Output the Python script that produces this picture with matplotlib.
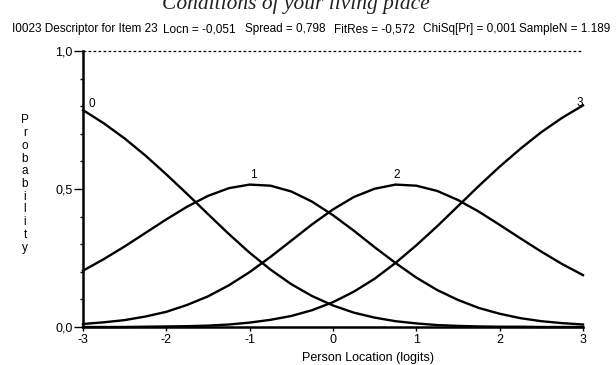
import matplotlib
matplotlib.use("Agg")
import matplotlib.pyplot as plt
from matplotlib.ticker import MultipleLocator

# Person location (logits)
locations = [-3.0, -2.75, -2.5, -2.25, -2.0, -1.75, -1.5, -1.25, -1.0, -0.75, -0.5, -0.25,
             0.0, 0.25, 0.5, 0.75, 1.0, 1.25, 1.5, 1.75, 2.0, 2.25, 2.5, 2.75, 3.0]

# Category probability curves
cat0 = [.786, .738, .683, .621, .553, .482, .409, .337, .269, .208, .155, .112,
        .078, .052, .034, .021, .013, .007, .004, .002, .001, .001, .000, .000, .000]
cat1 = [.204, .246, .292, .341, .390, .436, .475, .503, .516, .512, .491, .454,
        .405, .349, .289, .232, .179, .134, .098, .069, .048, .032, .021, .014, .009]
cat2 = [.011, .017, .025, .038, .055, .080, .111, .151, .199, .254, .313, .372,
        .426, .471, .501, .516, .512, .493, .460, .418, .370, .321, .273, .228, .188]
cat3 = [.000, .000, .000, .001, .002, .003, .005, .009, .016, .026, .040, .061,
        .090, .128, .175, .232, .296, .365, .438, .511, .581, .646, .706, .758, .803]

xtick_vals = [-3, -2, -1, 0, 1, 2, 3]
ytick_vals = [0.0, 0.5, 1.0]
ytick_labels = ["0,0", "0,5", "1,0"]

# header fields and their left edges (px)
header_parts = ["I0023 Descriptor for Item 23", "Locn = -0,051", "Spread = 0,798",
                "FitRes = -0,572", "ChiSq[Pr] = 0,001", "SampleN = 1.189"]
header_x = [12, 163, 245, 334, 423, 519]

sans = "Liberation Sans"

fig = plt.figure(figsize=(6.16, 3.65), dpi=100)
W, H = 616, 365
ax = fig.add_axes([83 / W, (H - 327) / H, 500 / W, 276 / H])

for ys in (cat0, cat1, cat2, cat3):
    ax.plot(locations, ys, color="black", linewidth=1.7, clip_on=False,
            solid_joinstyle="round")

# category labels
ax.text(-2.9, 0.808, "0", fontsize=8.5, family=sans, ha="center", va="center")
ax.text(-0.95, 0.528, "1", fontsize=8.5, family=sans, ha="center", va="bottom")
ax.text(0.76, 0.528, "2", fontsize=8.5, family=sans, ha="center", va="bottom")
ax.text(2.96, 0.81, "3", fontsize=8.5, family=sans, ha="center", va="center")

# dotted top line at 1.0
ax.plot([-3, 3], [1, 1], color="black", linewidth=0.9, linestyle=(0, (2.2, 1.8)),
        clip_on=False)

ax.set_xlim(-3, 3)
ax.set_ylim(0, 1)
ax.spines["top"].set_visible(False)
ax.spines["right"].set_visible(False)
ax.spines["left"].set_linewidth(1.8)
ax.spines["bottom"].set_linewidth(1.8)

ax.set_xticks(xtick_vals)
ax.set_xticklabels([str(v) for v in xtick_vals], family=sans, fontsize=9)
ax.set_yticks(ytick_vals)
ax.set_yticklabels(ytick_labels, family=sans, fontsize=9)
ax.yaxis.set_minor_locator(MultipleLocator(0.1))
ax.tick_params(axis="y", which="major", length=6.5, width=1, pad=1)
ax.tick_params(axis="y", which="minor", length=2.5, width=1)
ax.tick_params(axis="x", which="major", length=3, width=1, pad=2)

fig.text(368 / W, 1 - 358 / H, "Person Location (logits)", family=sans, fontsize=9,
         ha="center", va="center")
fig.text(25 / W, 1 - 184 / H, "\n".join("Probability"), family=sans, fontsize=8.5,
         ha="center", va="center", linespacing=1.08)

for part, px in zip(header_parts, header_x):
    fig.text(px / W, 1 - 29 / H, part, family=sans, fontsize=8.5, ha="left", va="center")

fig.text(296 / W, 1 - 9 / H, "Conditions of your living place", family="Liberation Serif",
         style="italic", fontsize=15.5, ha="center", va="baseline", color="#222222")

fig.savefig("out.png", dpi=100)
